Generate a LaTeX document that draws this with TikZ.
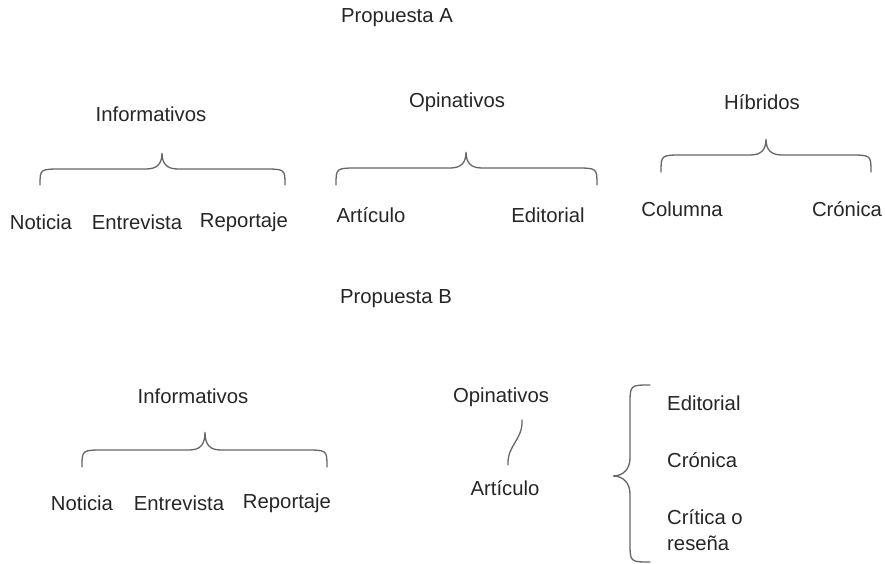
\documentclass[tikz,border=0pt]{standalone}
\usepackage{fontspec}
\setmainfont{Liberation Sans}
\begin{document}
\begin{tikzpicture}[x=1pt,y=-1pt,
  lbl/.style={inner sep=0pt,text=black!85,font=\fontsize{20.3}{24}\selectfont},
  brace/.style={draw=black!60,line width=1.3pt,line cap=round}]
\useasboundingbox[fill=white] (0,0) rectangle (885,563);

% horizontal brace: #1 left end x, #2 right end x, #3 tip x, #4 end y, #5 flat y, #6 tip y
\newcommand{\hbrace}[6]{%
  \draw[brace] (#1,#4) .. controls (#1,#5) .. ({#1+22},#5) -- ({#3-16},#5)
    .. controls ({#3-5},#5) and (#3,{#5-5}) .. (#3,#6)
    .. controls (#3,{#5-5}) and ({#3+5},#5) .. ({#3+16},#5)
    -- ({#2-22},#5) .. controls (#2,#5) .. (#2,#4);}

% ---------- Propuesta A ----------
\node[lbl] (titA) at (397,18) {Propuesta A};

\node[lbl] (infA) at (151,114) {Informativos};
\hbrace{40}{285}{162}{185}{169}{153}
\node[lbl] (notA) at (41,222) {Noticia};
\node[lbl] (entA) at (137,222) {Entrevista};
\node[lbl] (repA) at (244,222) {Reportaje};

\node[lbl] (opiA) at (457,102) {Opinativos};
\hbrace{336}{597}{466}{185}{168}{152}
\node[lbl] (artA) at (371,215) {Artículo};
\node[lbl] (ediA) at (548,215) {Editorial};

\node[lbl] (hibA) at (762,102) {Híbridos};
\hbrace{661}{871}{766}{172}{155}{139}
\node[lbl] (colA) at (682,209) {Columna};
\node[lbl] (croA) at (847,209) {Crónica};

% ---------- Propuesta B ----------
\node[lbl] (titB) at (396,299) {Propuesta B};

\node[lbl] (infB) at (193,396) {Informativos};
\hbrace{82}{327}{205}{467}{450}{432}
\node[lbl] (notB) at (82,503) {Noticia};
\node[lbl] (entB) at (179,503) {Entrevista};
\node[lbl] (repB) at (287,503) {Reportaje};

\node[lbl] (opiB) at (501,397) {Opinativos};
\coordinate (sqTop) at (522,420);
\coordinate (sqBot) at (508,465);
\draw[brace] (sqTop) .. controls (523,440) and (507,445) .. (sqBot);
\node[lbl] (artB) at (505,488) {Artículo};

% vertical brace opening to the right
\draw[brace] (650,385) .. controls (630,385) .. (630,405) -- (630,458)
  .. controls (630,468) and (624,476) .. (613,476)
  .. controls (624,476) and (630,484) .. (630,494)
  -- (630,542) .. controls (630,562) .. (650,562);

\node[lbl,anchor=west] (ediB) at (667,403) {Editorial};
\node[lbl,anchor=west] (croB) at (667,460) {Crónica};
\node[lbl,anchor=west] (criB) at (667,517) {Crítica o};
\node[lbl,anchor=west] (resB) at (667,543) {reseña};
\end{tikzpicture}
\end{document}
